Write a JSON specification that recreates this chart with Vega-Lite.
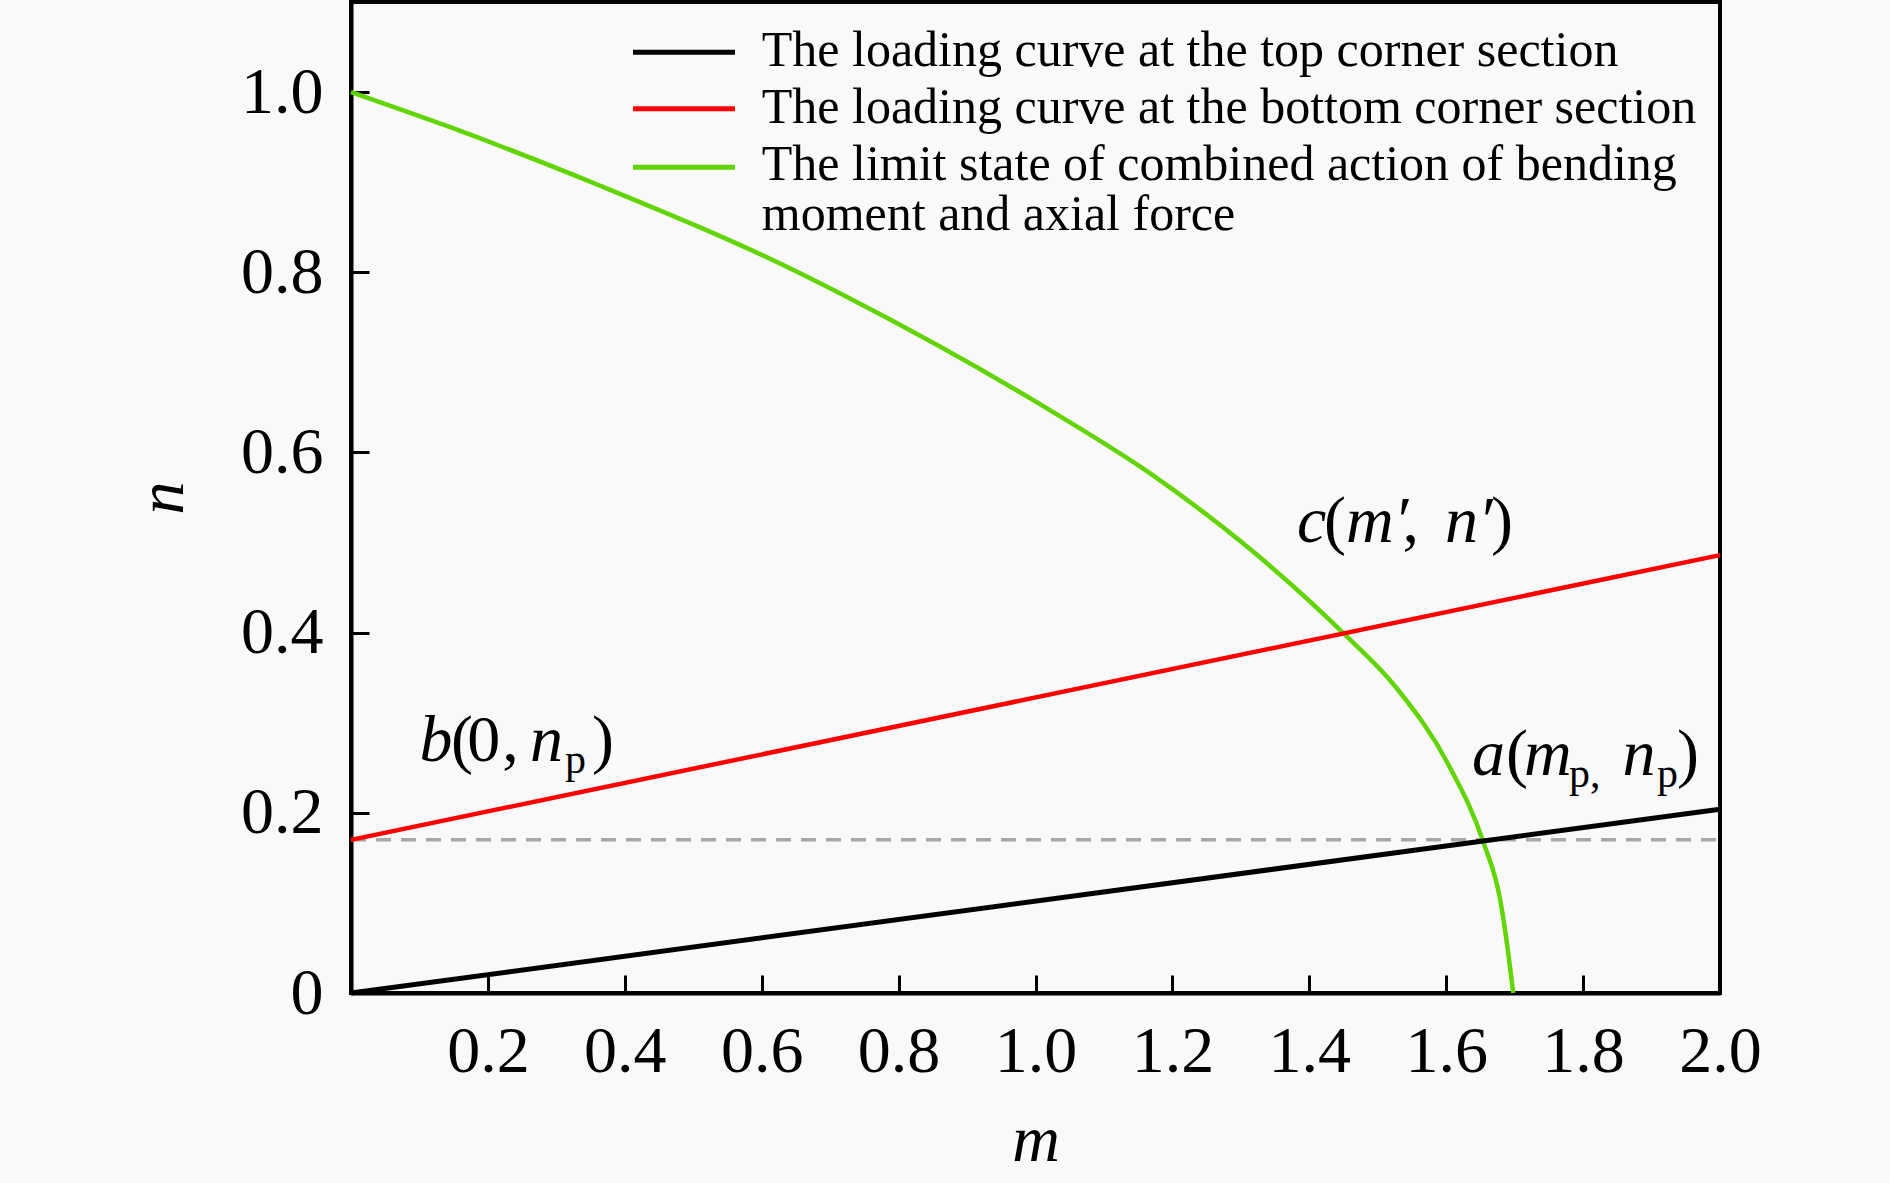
{
  "$schema": "https://vega.github.io/schema/vega-lite/v6.json",
  "width": 1369,
  "height": 991,
  "autosize": {"type": "none"},
  "padding": {"left": 351, "top": 2, "right": 170, "bottom": 190},
  "background": "#f9f9f9",
  "config": {
    "view": {"stroke": "black", "strokeWidth": 4, "fill": "#f9f9f9"},
    "axis": {
      "grid": false,
      "domainColor": "black",
      "domainWidth": 4,
      "tickColor": "black",
      "tickWidth": 3,
      "tickSize": -18,
      "labelFont": "Liberation Serif",
      "labelFontSize": 66,
      "labelColor": "black",
      "titleFont": "Liberation Serif",
      "titleFontStyle": "italic",
      "titleFontWeight": "normal",
      "titleFontSize": 66,
      "titleColor": "black"
    }
  },
  "datasets": {
    "top": [{"m": 0, "n": 0}, {"m": 2.0, "n": 0.204}],
    "bottom": [{"m": 0, "n": 0.17}, {"m": 2.0, "n": 0.486}],
    "dash": [{"m": 0, "n": 0.17}, {"m": 2.0, "n": 0.17}],
    "limit": [
      {"m": 0, "n": 1.0},
      {"m": 0.145, "n": 0.961},
      {"m": 0.364, "n": 0.896},
      {"m": 0.656, "n": 0.799},
      {"m": 0.729, "n": 0.771},
      {"m": 1.021, "n": 0.647},
      {"m": 1.167, "n": 0.577},
      {"m": 1.313, "n": 0.493},
      {"m": 1.449, "n": 0.4},
      {"m": 1.527, "n": 0.339},
      {"m": 1.605, "n": 0.251},
      {"m": 1.654, "n": 0.168},
      {"m": 1.679, "n": 0.103},
      {"m": 1.69, "n": 0.048},
      {"m": 1.698, "n": 0}
    ],
    "legendLines": [
      {"series": "top", "m1": 0.412, "m2": 0.561, "n": 1.0443},
      {"series": "bottom", "m1": 0.412, "m2": 0.561, "n": 0.9815},
      {"series": "limit", "m1": 0.412, "m2": 0.561, "n": 0.9167}
    ],
    "legendText": [
      {"text": "The loading curve at the top corner section", "m": 0.6001, "n": 1.0295},
      {"text": "The loading curve at the bottom corner section", "m": 0.6001, "n": 0.9655},
      {"text": "The limit state of combined action of bending", "m": 0.6001, "n": 0.9019},
      {"text": "moment and axial force", "m": 0.6001, "n": 0.8465}
    ],
    "italic": [
      {"t": "c", "m": 1.382, "n": 0.5007},
      {"t": "m′", "m": 1.4536, "n": 0.5007},
      {"t": "n′", "m": 1.5983, "n": 0.5007},
      {"t": "b", "m": 0.1, "n": 0.2574},
      {"t": "n", "m": 0.2615, "n": 0.2574},
      {"t": "a", "m": 1.6377, "n": 0.2418},
      {"t": "m", "m": 1.7137, "n": 0.2418},
      {"t": "n", "m": 1.8575, "n": 0.2418}
    ],
    "roman": [
      {"t": "(", "m": 1.4215, "n": 0.5007},
      {"t": ",", "m": 1.5361, "n": 0.5007},
      {"t": ")", "m": 1.6654, "n": 0.5007},
      {"t": "(", "m": 0.146, "n": 0.2574},
      {"t": "0", "m": 0.17, "n": 0.2574},
      {"t": ",", "m": 0.221, "n": 0.2574},
      {"t": ")", "m": 0.352, "n": 0.2574},
      {"t": "(", "m": 1.6874, "n": 0.2418},
      {"t": ")", "m": 1.9372, "n": 0.2418}
    ],
    "sub": [
      {"t": "p", "m": 0.3125, "n": 0.2574},
      {"t": "p,", "m": 1.7793, "n": 0.2418},
      {"t": "p", "m": 1.908, "n": 0.2418}
    ]
  },
  "encoding": {
    "x": {
      "field": "m", "type": "quantitative",
      "scale": {"domain": [0, 2], "nice": false, "zero": false},
      "axis": {"title": "m", "values": [0.2, 0.4, 0.6, 0.8, 1.0, 1.2, 1.4, 1.6, 1.8, 2.0], "format": ".1f", "labelPadding": 44, "titlePadding": 24, "labelFlush": false}
    },
    "y": {
      "field": "n", "type": "quantitative",
      "scale": {"domain": [0, 1.1], "nice": false, "zero": false},
      "axis": {"title": "n", "values": [0, 0.2, 0.4, 0.6, 0.8, 1.0], "labelExpr": "datum.value == 0 ? '0' : format(datum.value, '.1f')", "labelPadding": 46, "titlePadding": 44, "labelFlush": false}
    }
  },
  "layer": [
    {
      "data": {"name": "dash"},
      "mark": {"type": "line", "color": "#a8a8a8", "strokeWidth": 3.5, "strokeDash": [15, 10]},
      "encoding": {}
    },
    {
      "data": {"name": "limit"},
      "mark": {"type": "line", "color": "#62d400", "strokeWidth": 4.5, "interpolate": "monotone"},
      "encoding": {}
    },
    {
      "data": {"name": "bottom"},
      "mark": {"type": "line", "color": "#ff0000", "strokeWidth": 4.5},
      "encoding": {}
    },
    {
      "data": {"name": "top"},
      "mark": {"type": "line", "color": "#000000", "strokeWidth": 5},
      "encoding": {}
    },
    {
      "data": {"name": "legendLines"},
      "mark": {"type": "rule", "strokeWidth": 5},
      "encoding": {
        "x": {"field": "m1", "type": "quantitative"},
        "x2": {"field": "m2"},
        "y": {"field": "n", "type": "quantitative"},
        "color": {"field": "series", "type": "nominal", "scale": {"domain": ["top", "bottom", "limit"], "range": ["#000000", "#ff0000", "#62d400"]}, "legend": null}
      }
    },
    {
      "data": {"name": "legendText"},
      "mark": {"type": "text", "align": "left", "baseline": "alphabetic", "font": "Liberation Serif", "fontSize": 50, "color": "black"},
      "encoding": {"text": {"field": "text"}}
    },
    {
      "data": {"name": "italic"},
      "mark": {"type": "text", "align": "left", "baseline": "alphabetic", "font": "Liberation Serif", "fontStyle": "italic", "fontSize": 66, "color": "black"},
      "encoding": {"text": {"field": "t"}}
    },
    {
      "data": {"name": "roman"},
      "mark": {"type": "text", "align": "left", "baseline": "alphabetic", "font": "Liberation Serif", "fontSize": 66, "color": "black"},
      "encoding": {"text": {"field": "t"}}
    },
    {
      "data": {"name": "sub"},
      "mark": {"type": "text", "align": "left", "baseline": "alphabetic", "font": "Liberation Serif", "fontSize": 42, "dy": 12, "color": "black"},
      "encoding": {"text": {"field": "t"}}
    }
  ]
}
